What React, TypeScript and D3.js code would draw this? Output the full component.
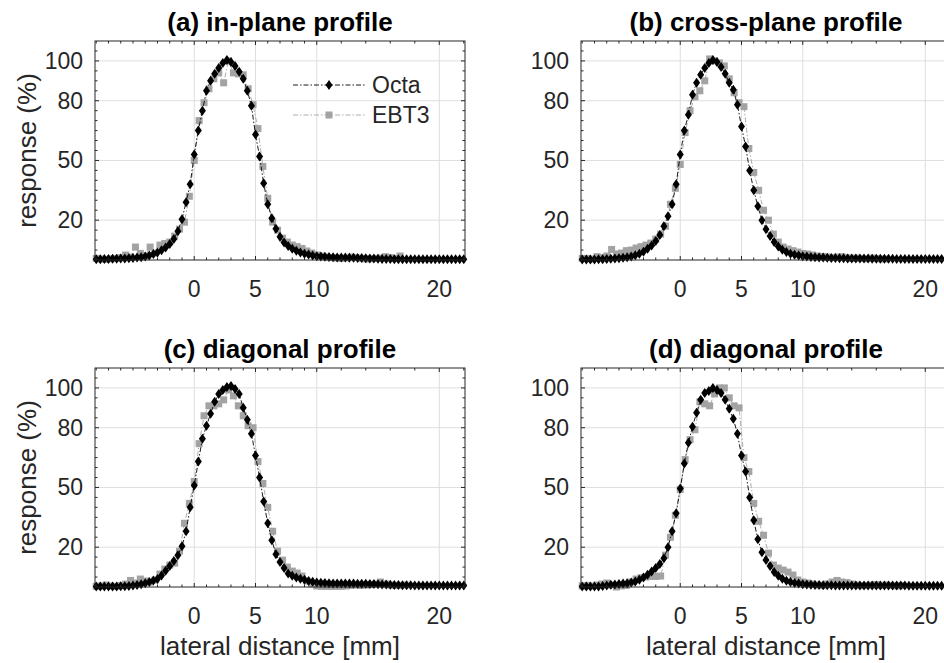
import React from "react";
import * as d3 from "d3";

// sampling grids (mm)
const octaStart = -8;
const octaStep = 1 / 3;
const ebtStart = -8;
const ebtStep = 0.4;

// Octa response (%) per panel
const octaA = [
  0.4, 0.4, 0.5, 0.5, 0.6, 0.6, 0.7, 0.8, 0.9, 1.0,
  1.2, 1.4, 1.8, 2.3, 3.0, 3.8, 4.9, 6.3, 8.0, 10.5,
  14.5, 20.5, 29, 38, 53, 65, 75, 85, 90, 93.5,
  96.5, 99, 100.5, 99.5, 97.5, 94.5, 91, 85, 77.5, 63,
  52, 38.5, 28, 21, 15.7, 11.7, 8.8, 7.0, 5.6, 4.6,
  3.8, 3.2, 2.7, 2.3, 1.9, 1.7, 1.6, 1.5, 1.4, 1.3,
  1.2, 1.2, 1.1, 1.1, 1.0, 1.0, 0.9, 0.8, 0.7, 0.6,
  0.5, 0.5, 0.5, 0.4, 0.4, 0.4, 0.4, 0.4, 0.4, 0.4,
  0.4, 0.4, 0.4, 0.4, 0.4, 0.4, 0.4, 0.4, 0.4, 0.4, 0.4,
];
const octaB = [
  0.2, 0.2, 0.3, 0.3, 0.4, 0.4, 0.5, 0.6, 0.7, 0.9,
  1.1, 1.4, 1.8, 2.4, 3.2, 4.2, 5.6, 7.3, 9.5, 12.5,
  17, 22, 28, 38, 53, 65, 73, 83, 89, 93,
  96.5, 99, 100.5, 99.5, 97, 93.5, 89, 85.5, 78, 67,
  57, 45, 35, 27, 20, 15.5, 12, 9, 6.8, 5.2,
  4.0, 3.2, 2.6, 2.2, 1.9, 1.7, 1.5, 1.4, 1.3, 1.2,
  1.1, 1.0, 1.0, 0.9, 0.9, 0.8, 0.8, 0.8, 0.7, 0.7,
  0.7, 0.6, 0.6, 0.6, 0.6, 0.6, 0.6, 0.5, 0.5, 0.5,
  0.5, 0.5, 0.5, 0.5, 0.5, 0.5, 0.5, 0.5, 0.5, 0.5, 0.5,
];
const octaC = [
  0.2, 0.2, 0.2, 0.3, 0.3, 0.3, 0.4, 0.4, 0.5, 0.7,
  1.0, 1.4, 1.9, 2.5, 3.3, 4.0, 5.8, 8.2, 10.5, 13,
  16, 20.5, 28, 40, 51, 63, 74.5, 81, 87, 93,
  97, 99, 100.5, 101, 99.5, 97, 90, 84, 77, 66,
  55, 43, 32, 23.5, 16.5, 12.5, 9.5, 6.8, 5.6, 4.8,
  4.2, 3.6, 3.0, 2.6, 2.3, 2.1, 2.0, 1.9, 1.8, 1.8,
  1.8, 1.7, 1.7, 1.7, 1.6, 1.6, 1.6, 1.5, 1.5, 1.4,
  1.3, 1.2, 1.1, 1.0, 1.0, 0.9, 0.9, 0.9, 0.8, 0.8,
  0.8, 0.8, 0.8, 0.8, 0.8, 0.8, 0.8, 0.8, 0.8, 0.8, 0.8,
];
const octaD = [
  0.2, 0.2, 0.3, 0.3, 0.3, 0.5, 0.8, 1.1, 1.3, 1.5,
  1.7, 1.9, 2.2, 2.8, 3.6, 4.8, 6.2, 7.8, 9.5, 11.5,
  14.5, 20, 28, 37, 49.5, 62, 72.5, 80.5, 87.5, 94,
  97.5, 98.5, 100, 99, 97.5, 94, 89.5, 84.5, 77, 66,
  58, 45, 33.5, 24, 17.5, 13.5, 10.5, 7.5, 5.7, 4.1,
  3.2, 2.5, 2.0, 1.7, 1.4, 1.2, 1.1, 1.0, 1.0, 0.9,
  0.9, 0.9, 0.8, 0.8, 0.8, 0.8, 0.7, 0.7, 0.7, 0.7,
  0.7, 0.7, 0.7, 0.7, 0.7, 0.7, 0.7, 0.7, 0.7, 0.7,
  0.6, 0.6, 0.6, 0.6, 0.6, 0.6, 0.6, 0.6, 0.6, 0.6, 0.6,
];

// EBT3 film response (%) per panel
const ebtA = [
  0.8, 0.5, 0.3, 0.6, 0.8, 1.2, 2.5, 1.5, 6.5, 3.3,
  2.0, 6.5, 3.5, 7.5, 8.3, 9.0, 12, 15.5, 19, 32,
  50, 70, 79, 86, 91, 94, 89, 100, 94, 93.5,
  93, 86, 78, 66, 47, 31, 19, 15, 11, 9,
  7.5, 6.7, 5.8, 4.5, 3.5, 2.5, 2.0, 1.5, 1.2, 1.0,
  0.8, 1.0, 1.5, 1.2, 0.8, 0.5, 0.6, 0.8, 1.0, 1.7,
  1.2, 0.8, 2.0,
];
const ebtB = [
  0.8, 0.8, 0.5, 1.7, 1.2, 2.0, 5.3, 3.0, 3.5, 4.7,
  5.0, 6.0, 6.7, 7.5, 8.5, 10.5, 13, 17, 28, 36,
  48, 64, 75, 82, 85, 90, 101, 100, 99, 97.5,
  91, 84, 79, 77, 56, 44, 35, 25, 20, 13,
  9, 6.5, 5.5, 4.7, 4.0, 3.3, 3.0, 2.5, 2.0, 1.8,
  1.5, 1.2, 1.5, 1.7, 1.2, 0.8, 1.0, 0.8, 0.6, 1.0,
  0.8, 0.5, 0.5,
];
const ebtC = [
  0.3, 0.5, 1.0, 0.5, 0.3, 0.8, 1.5, 3.3, 2.0, 4.0,
  3.0, 2.5, 3.5, 6.5, 9.0, 11, 12, 18, 32, 42,
  53, 72, 86, 91, 91, 92, 94, 99, 96, 91,
  86, 81, 80, 63, 52, 40, 28, 18, 13.5, 10,
  8, 7, 5.5, 3, 1.5, 0.5, 0.3, 0.3, 0.3, 0.3,
  0.3, 0.5, 0.8, 1.0, 0.8, 1.0, 1.2, 1.5, 2.5, 1.5,
  1.0, 0.8, 0.8, 1.0,
];
const ebtD = [
  0.5, 0.8, 0.5, 1.0, 1.5, 2.0, 1.0, 0.0, 0.5, 0.8,
  2.5, 4.0, 4.7, 5.0, 5.3, 5.3, 5.5, 16, 25, 36,
  49, 64, 74, 79, 93, 92, 91, 97, 100, 100,
  95, 91, 90, 65, 58, 42, 33, 26, 17, 11,
  9.5, 8.5, 7.5, 6.0, 3.5, 2.5, 2.0, 1.5, 1.0, 0.8,
  1.5, 2.5, 3.3, 2.5, 2.2, 1.5, 1.0, 0.7, 0.8, 1.0,
  1.2, 0.8, 1.0, 0.8, 0.5, 0.7,
];

const titles = [
  "(a) in-plane profile",
  "(b) cross-plane profile",
  "(c) diagonal profile",
  "(d) diagonal profile",
];
const octaSeries = [octaA, octaB, octaC, octaD];
const ebtSeries = [ebtA, ebtB, ebtC, ebtD];

const xTicks = [0, 5, 10, 20];
const xMinorTicks = [-8, -7, -6, -5, -4, -3, -2, -1, 1, 2, 3, 4, 6, 7, 8, 9, 12, 14, 16, 18, 22];
const yTicks = [20, 50, 80, 100];
const yMinorTicks = [5, 10, 15, 25, 30, 35, 40, 45, 55, 60, 65, 70, 75, 85, 90, 95, 105];
const legendNames = ["Octa", "EBT3"];

const FONT = "'Liberation Sans', Arial, Helvetica, sans-serif";
const AX = "#262626";
const GRID = "#dedede";
const GRAY = "#a3a3a3";
const W = 370;
const H = 219;
const layout = [
  { left: 95, top: 41 },
  { left: 581, top: 41 },
  { left: 95, top: 368 },
  { left: 581, top: 368 },
];

const toPoints = (vals: number[], start: number, step: number) =>
  vals.map((v, i) => [start + i * step, v] as [number, number]);

function Panel({ idx }: { idx: number }) {
  const { left, top } = layout[idx];
  const x = d3.scaleLinear().domain([-8.1, 22.1]).range([0, W]);
  const y = d3.scaleLinear().domain([0, 110]).range([H, 0]);
  const line = d3
    .line<[number, number]>()
    .x((d) => x(d[0]))
    .y((d) => y(d[1]));

  const octa = toPoints(octaSeries[idx], octaStart, octaStep);
  const ebt = toPoints(ebtSeries[idx], ebtStart, ebtStep);
  const diamond = "M0,-5L3.5,0L0,5L-3.5,0Z";
  const majorLen = 4;
  const minorLen = 2.5;

  return (
    <g transform={`translate(${left},${top})`}>
      {/* grid */}
      {xTicks.map((t) => (
        <line key={"gx" + t} x1={x(t)} x2={x(t)} y1={0} y2={H} stroke={GRID} strokeWidth={1} />
      ))}
      {yTicks.map((t) => (
        <line key={"gy" + t} x1={0} x2={W} y1={y(t)} y2={y(t)} stroke={GRID} strokeWidth={1} />
      ))}

      {/* EBT3 */}
      <path d={line(ebt) || ""} fill="none" stroke={GRAY} strokeWidth={0.9} strokeDasharray="5,2,1.5,2" />
      {ebt.map((d, i) => (
        <rect key={"e" + i} x={x(d[0]) - 3.5} y={y(d[1]) - 3.5} width={7} height={7} fill={GRAY} />
      ))}

      {/* Octa */}
      <path d={line(octa) || ""} fill="none" stroke="#000" strokeWidth={0.9} strokeDasharray="5,2,1.5,2" />
      {octa.map((d, i) => (
        <path key={"o" + i} d={diamond} transform={`translate(${x(d[0])},${y(d[1])})`} fill="#000" />
      ))}

      {/* box */}
      <rect x={0} y={0} width={W} height={H} fill="none" stroke={AX} strokeWidth={1} />

      {/* ticks */}
      {xTicks.map((t) => (
        <g key={"tx" + t} stroke={AX}>
          <line x1={x(t)} x2={x(t)} y1={H} y2={H - majorLen} />
          <line x1={x(t)} x2={x(t)} y1={0} y2={majorLen} />
        </g>
      ))}
      {xMinorTicks.map((t) => (
        <g key={"mx" + t} stroke={AX}>
          <line x1={x(t)} x2={x(t)} y1={H} y2={H - minorLen} />
          <line x1={x(t)} x2={x(t)} y1={0} y2={minorLen} />
        </g>
      ))}
      {yTicks.map((t) => (
        <g key={"ty" + t} stroke={AX}>
          <line x1={0} x2={majorLen} y1={y(t)} y2={y(t)} />
          <line x1={W} x2={W - majorLen} y1={y(t)} y2={y(t)} />
        </g>
      ))}
      {yMinorTicks.map((t) => (
        <g key={"my" + t} stroke={AX}>
          <line x1={0} x2={minorLen} y1={y(t)} y2={y(t)} />
          <line x1={W} x2={W - minorLen} y1={y(t)} y2={y(t)} />
        </g>
      ))}

      {/* tick labels */}
      {xTicks.map((t) => (
        <text key={"lx" + t} x={x(t)} y={H + 37} textAnchor="middle" fontSize={23} fill={AX} fontFamily={FONT}>
          {t}
        </text>
      ))}
      {yTicks.map((t) => (
        <text key={"ly" + t} x={-12} y={y(t) + 8} textAnchor="end" fontSize={23} fill={AX} fontFamily={FONT}>
          {t}
        </text>
      ))}

      {/* title */}
      <text x={W / 2} y={-10} textAnchor="middle" fontSize={26} fontWeight="bold" fill="#000" fontFamily={FONT}>
        {titles[idx]}
      </text>

      {idx % 2 === 0 && (
        <text
          transform={`translate(${-59},${H / 2}) rotate(-90)`}
          textAnchor="middle"
          fontSize={26}
          fill={AX}
          fontFamily={FONT}
        >
          response (%)
        </text>
      )}
      {idx >= 2 && (
        <text x={W / 2} y={H + 68} textAnchor="middle" fontSize={26} fill={AX} fontFamily={FONT}>
          lateral distance [mm]
        </text>
      )}

      {idx === 0 && (
        <g>
          {legendNames.map((name, k) => {
            const ly = 44 + k * 30;
            const color = k === 0 ? "#000" : GRAY;
            return (
              <g key={name}>
                <line x1={198} x2={270} y1={ly} y2={ly} stroke={color} strokeWidth={0.9} strokeDasharray="5,2,1.5,2" />
                {k === 0 ? (
                  <path d={diamond} transform={`translate(234,${ly})`} fill="#000" />
                ) : (
                  <rect x={230.5} y={ly - 3.5} width={7} height={7} fill={GRAY} />
                )}
                <text x={277} y={ly + 8} fontSize={23} fill={AX} fontFamily={FONT}>
                  {name}
                </text>
              </g>
            );
          })}
        </g>
      )}
    </g>
  );
}

export default function App() {
  return (
    <svg
      width={944}
      height={663}
      style={{ position: "absolute", left: 0, top: 0, display: "block", background: "#fff" }}
    >
      <rect width={944} height={663} fill="#fff" />
      {[0, 1, 2, 3].map((i) => (
        <Panel key={i} idx={i} />
      ))}
    </svg>
  );
}
